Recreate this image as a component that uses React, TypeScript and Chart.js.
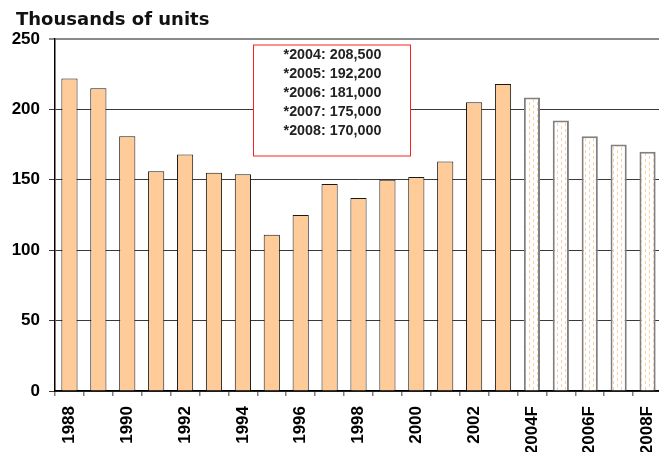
import React, { useEffect, useRef } from "react";
import { Chart, registerables } from "chart.js";

Chart.register(...registerables);

const categories = [
  "1988", "1989", "1990", "1991", "1992", "1993", "1994", "1995", "1996", "1997",
  "1998", "1999", "2000", "2001", "2002", "2003", "2004F", "2005F", "2006F", "2007F", "2008F",
];
const values = [
  222, 215, 181, 156, 168, 155, 154, 111, 125, 147,
  137, 150, 152, 163, 205, 218, 208.5, 192.2, 181, 175, 170,
];
const isForecast = [
  false, false, false, false, false, false, false, false, false, false,
  false, false, false, false, false, false, true, true, true, true, true,
];
const yTicks = [0, 50, 100, 150, 200, 250];
const noteLines = [
  "*2004: 208,500",
  "*2005: 192,200",
  "*2006: 181,000",
  "*2007: 175,000",
  "*2008: 170,000",
];
const titleText = "Thousands of units";

function makePattern(): CanvasPattern | string {
  const c = document.createElement("canvas");
  c.width = 8;
  c.height = 6;
  const g = c.getContext("2d");
  if (!g) return "#ffffff";
  g.fillStyle = "#ffffff";
  g.fillRect(0, 0, 8, 6);
  g.fillStyle = "#FBCFA2";
  g.fillRect(1, 0, 1, 3);
  g.fillRect(5, 3, 1, 3);
  const p = g.createPattern(c, "repeat");
  return p || "#ffffff";
}

export default function App() {
  const ref = useRef<HTMLCanvasElement | null>(null);

  useEffect(() => {
    document.body.style.margin = "0";
    const canvas = ref.current;
    if (!canvas) return;
    const pattern = makePattern();

    const overlay = {
      id: "overlay",
      afterDraw(chart: any) {
        const ctx = chart.ctx;
        const area = chart.chartArea;
        ctx.save();
        // title
        ctx.font = "bold 18px 'DejaVu Sans'";
        ctx.fillStyle = "#111111";
        ctx.textAlign = "left";
        ctx.textBaseline = "alphabetic";
        ctx.fillText(titleText, 16, 25);
        // note box
        const bx = area.left + 198;
        const by = area.top + 5.5;
        const bw = 157;
        const bh = 111;
        ctx.fillStyle = "#ffffff";
        ctx.fillRect(bx, by, bw, bh);
        ctx.strokeStyle = "#ff2020";
        ctx.lineWidth = 1;
        ctx.strokeRect(bx + 0.5, by + 0.5, bw, bh);
        ctx.font = "bold 14.3px 'Liberation Sans'";
        ctx.fillStyle = "#222222";
        ctx.textAlign = "center";
        ctx.textBaseline = "middle";
        noteLines.forEach((t, i) => {
          ctx.fillText(t, bx + bw / 2 + 1, by + 11 + i * 19);
        });
        ctx.restore();
      },
    };

    const chart = new Chart(canvas, {
      type: "bar",
      data: {
        labels: categories,
        datasets: [
          {
            data: values,
            backgroundColor: (c: any) => (isForecast[c.dataIndex] ? pattern : "#FFCC99"),
            borderColor: (c: any) => (isForecast[c.dataIndex] ? "#808080" : "#1a1a1a"),
            borderWidth: (c: any) => (isForecast[c.dataIndex] ? 2 : 1),
            barPercentage: 0.56,
            categoryPercentage: 1,
          },
        ],
      },
      options: {
        responsive: false,
        animation: false,
        layout: { padding: { top: 39, right: 0, left: 0, bottom: 0 } },
        plugins: {
          legend: { display: false },
          tooltip: { enabled: false },
        },
        scales: {
          x: {
            offset: true,
            grid: {
              offset: true,
              drawOnChartArea: false,
              drawTicks: true,
              tickLength: 5,
              color: "#808080",
              lineWidth: 1.5,
            },
            border: { display: true, color: "#000000", width: 1.5 },
            ticks: {
              autoSkip: false,
              minRotation: 90,
              maxRotation: 90,
              padding: 10,
              color: "#000000",
              font: { family: "'Liberation Sans'", weight: "bold", size: 17 },
              callback: (_v: any, i: number) => (i % 2 === 0 ? categories[i] : ""),
            },
            afterFit: (s: any) => {
              s.height = 79;
              s.paddingLeft = 0;
              s.paddingRight = 0;
            },
          },
          y: {
            min: yTicks[0],
            max: yTicks[yTicks.length - 1],
            afterBuildTicks: (s: any) => {
              s.ticks = yTicks.map((v) => ({ value: v }));
            },
            grid: {
              drawTicks: true,
              tickLength: 6,
              color: (c: any) => (c.tick && c.tick.value === 250 ? "#8a8a8a" : "#3a3a3a"),
              lineWidth: (c: any) => (c.tick && c.tick.value === 250 ? 2 : 1),
            },
            border: { display: true, color: "#000000", width: 1.5 },
            ticks: {
              padding: 9,
              color: "#000000",
              font: { family: "'Liberation Sans'", weight: "bold", size: 17 },
            },
            afterFit: (s: any) => {
              s.width = 55;
            },
          },
        },
      },
      plugins: [overlay],
    } as any);

    return () => {
      chart.destroy();
    };
  }, []);

  return (
    <div style={{ width: 659, height: 452, overflow: "hidden", position: "relative" }}>
      <canvas ref={ref} width={662} height={470} style={{ display: "block" }} />
    </div>
  );
}
